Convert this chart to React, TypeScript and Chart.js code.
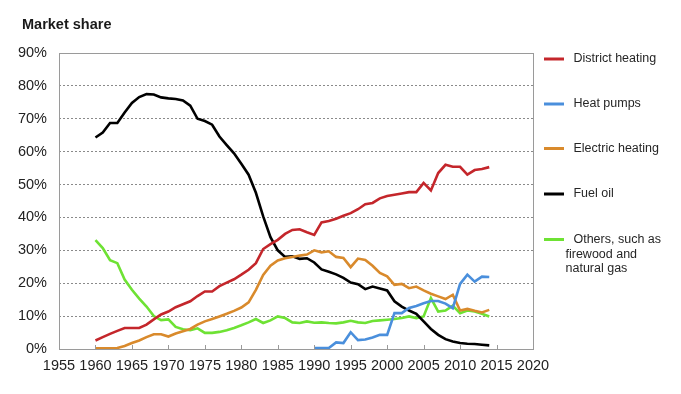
import React, { useEffect, useRef } from 'react';
import { Chart, registerables } from 'chart.js';

Chart.register(...registerables);

const years = [
  1960, 1961, 1962, 1963, 1964, 1965, 1966, 1967, 1968, 1969,
  1970, 1971, 1972, 1973, 1974, 1975, 1976, 1977, 1978, 1979,
  1980, 1981, 1982, 1983, 1984, 1985, 1986, 1987, 1988, 1989,
  1990, 1991, 1992, 1993, 1994, 1995, 1996, 1997, 1998, 1999,
  2000, 2001, 2002, 2003, 2004, 2005, 2006, 2007, 2008, 2009,
  2010, 2011, 2012, 2013, 2014,
];

const districtHeating = [
  2.6, 3.6, 4.6, 5.5, 6.4, 6.4, 6.4, 7.4, 9.0, 10.5,
  11.4, 12.7, 13.6, 14.5, 16.1, 17.5, 17.5, 19.1, 20.2, 21.2,
  22.6, 24.1, 26.1, 30.4, 31.9, 33.2, 35.0, 36.2, 36.4, 35.5,
  34.7, 38.5, 38.9, 39.6, 40.5, 41.3, 42.5, 44.0, 44.4, 45.8,
  46.5, 46.9, 47.3, 47.7, 47.7, 50.5, 48.2, 53.5, 56.0, 55.4,
  55.4, 53.0, 54.4, 54.7, 55.3,
];

const heatPumps = [
  null, null, null, null, null, null, null, null, null, null,
  null, null, null, null, null, null, null, null, null, null,
  null, null, null, null, null, null, null, null, null, null,
  0.3, 0.3, 0.3, 2.0, 1.8, 5.1, 2.7, 2.9, 3.5, 4.3,
  4.3, 10.9, 10.9, 12.5, 13.1, 13.9, 14.6, 14.6, 13.8, 12.4,
  19.8, 22.6, 20.5, 22.0, 21.9,
];

const electricHeating = [
  0.2, 0.2, 0.2, 0.3, 0.9, 1.8, 2.6, 3.6, 4.5, 4.5,
  3.8, 4.7, 5.4, 6.1, 7.4, 8.4, 9.1, 9.9, 10.7, 11.6,
  12.6, 14.2, 18.0, 22.5, 25.3, 26.9, 27.6, 28.0, 28.4, 28.7,
  30.0, 29.4, 29.7, 28.0, 27.7, 24.9, 27.5, 27.1, 25.3, 23.1,
  22.1, 19.5, 19.8, 18.5, 19.0, 17.8, 16.8, 16.0, 15.2, 16.5,
  11.7, 12.2, 11.6, 11.1, 11.9,
];

const fuelOil = [
  64.3, 65.8, 68.7, 68.7, 71.9, 74.8, 76.6, 77.5, 77.4, 76.5,
  76.2, 76.0, 75.6, 74.0, 70.0, 69.3, 68.2, 64.6, 62.0, 59.5,
  56.3, 53.0, 47.5, 40.3, 34.0, 30.0, 28.0, 28.2, 27.4, 27.6,
  26.3, 24.2, 23.5, 22.7, 21.6, 20.2, 19.7, 18.2, 19.0, 18.4,
  17.8, 14.5, 12.9, 11.7, 10.7, 8.4, 6.1, 4.3, 3.0, 2.3,
  1.8, 1.6, 1.5, 1.3, 1.1,
];

const others = [
  33.1, 30.7, 27.0, 26.1, 21.1, 18.0, 15.3, 12.9, 10.0, 8.8,
  9.0, 6.7, 6.0, 5.7, 6.3, 4.9, 4.9, 5.2, 5.7, 6.4,
  7.2, 8.1, 9.1, 7.9, 8.7, 9.9, 9.4, 8.1, 7.9, 8.4,
  8.0, 8.1, 7.9, 7.8, 8.1, 8.6, 8.1, 7.9, 8.5, 8.7,
  8.9, 9.1, 9.4, 9.9, 9.4, 9.9, 15.5, 11.4, 11.7, 13.2,
  10.9, 11.7, 11.4, 10.7, 9.9,
];

const xTicks = [1955, 1960, 1965, 1970, 1975, 1980, 1985, 1990, 1995, 2000, 2005, 2010, 2015, 2020];
const yTicks = [0, 10, 20, 30, 40, 50, 60, 70, 80, 90];

const seriesNames = ['District heating', 'Heat pumps', 'Electric heating', 'Fuel oil', 'Others, such as firewood and natural gas'];
const seriesColors = ['#c4262b', '#4a8fdc', '#d98a2c', '#000000', '#6ee234'];
const seriesValues = [districtHeating, heatPumps, electricHeating, fuelOil, others];
const legendLines = [
  [' District heating'],
  [' Heat pumps'],
  [' Electric heating'],
  [' Fuel oil'],
  [' Others, such as', 'firewood and', 'natural gas'],
];

const titleText = 'Market share';

export default function App() {
  const ref = useRef<HTMLCanvasElement>(null);

  useEffect(() => {
    const canvas = ref.current;
    if (!canvas) return;
    const FONT = '"Liberation Sans", Arial, Helvetica, sans-serif';

    const overlay = {
      id: 'overlay',
      afterDraw(chart: any) {
        const ctx = chart.ctx;
        const area = chart.chartArea;
        const xs = chart.scales.x;
        ctx.save();
        // plot box
        ctx.strokeStyle = '#9a9a9a';
        ctx.lineWidth = 1;
        ctx.setLineDash([]);
        ctx.strokeRect(Math.round(area.left) + 0.5, Math.round(area.top) + 0.5,
          Math.round(area.right - area.left), Math.round(area.bottom - area.top));
        // inside tick marks on x axis
        ctx.beginPath();
        for (const v of xTicks) {
          const px = Math.round(xs.getPixelForValue(v)) + 0.5;
          ctx.moveTo(px, area.bottom - 4);
          ctx.lineTo(px, area.bottom);
        }
        ctx.stroke();

        // title
        ctx.fillStyle = '#1a1a1a';
        ctx.font = 'bold 14.5px ' + FONT;
        ctx.textAlign = 'left';
        ctx.textBaseline = 'alphabetic';
        ctx.fillText(titleText, 22, 28.5);

        // legend
        const rowY = [59, 104, 148.5, 194, 239.5];
        ctx.font = '12.5px ' + FONT;
        ctx.textBaseline = 'middle';
        seriesNames.forEach((_, i) => {
          const y = rowY[i];
          ctx.strokeStyle = seriesColors[i];
          ctx.lineWidth = 3;
          ctx.beginPath();
          ctx.moveTo(544, y);
          ctx.lineTo(564, y);
          ctx.stroke();
          ctx.fillStyle = '#262626';
          legendLines[i].forEach((t, j) => {
            ctx.fillText(j === 0 ? t : t, j === 0 ? 570 : 565.5, y + j * 14.7);
          });
        });
        ctx.restore();
      },
    };

    const chart = new Chart(canvas, {
      type: 'line',
      data: {
        labels: years,
        datasets: seriesNames.map((name, i) => ({
          label: name,
          data: years.map((yr, k) => ({ x: yr, y: seriesValues[i][k] })),
          borderColor: seriesColors[i],
          backgroundColor: seriesColors[i],
          borderWidth: 2.6,
          pointRadius: 0,
          pointHoverRadius: 0,
          tension: 0,
          fill: false,
          spanGaps: false,
        })),
      },
      options: {
        responsive: false,
        animation: false,
        events: [],
        layout: { padding: { top: 53, right: 148, left: 0, bottom: 0 } },
        plugins: {
          legend: { display: false },
          title: { display: false },
          tooltip: { enabled: false },
        },
        scales: {
          x: {
            type: 'linear',
            min: 1955,
            max: 2020,
            afterBuildTicks: (scale: any) => {
              scale.ticks = xTicks.map((v) => ({ value: v }));
            },
            afterFit: (scale: any) => {
              scale.height = 45;
            },
            ticks: {
              autoSkip: false,
              maxRotation: 0,
              minRotation: 0,
              padding: 8,
              color: '#222',
              font: { family: FONT, size: 14.5 },
              callback: (v: any) => String(v),
            },
            grid: { drawOnChartArea: false, drawTicks: false },
            border: { display: false },
          },
          y: {
            min: 0,
            max: 90,
            afterBuildTicks: (scale: any) => {
              scale.ticks = yTicks.map((v) => ({ value: v }));
            },
            afterFit: (scale: any) => {
              scale.width = 59;
            },
            ticks: {
              padding: 12,
              color: '#222',
              font: { family: FONT, size: 14.5 },
              callback: (v: any) => v + '%',
            },
            grid: {
              drawTicks: false,
              lineWidth: 1,
              color: (c: any) => (c.tick && (c.tick.value === 0 || c.tick.value === 90) ? 'rgba(0,0,0,0)' : '#8a8a8a'),
            },
            border: { display: false, dash: [2, 2] },
          },
        },
      },
      plugins: [overlay],
    } as any);

    return () => chart.destroy();
  }, []);

  return (
    <div style={{ position: 'fixed', left: 0, top: 0, width: 681, height: 394, background: '#ffffff' }}>
      <canvas ref={ref} width={681} height={394} style={{ display: 'block', width: 681, height: 394 }} />
    </div>
  );
}
